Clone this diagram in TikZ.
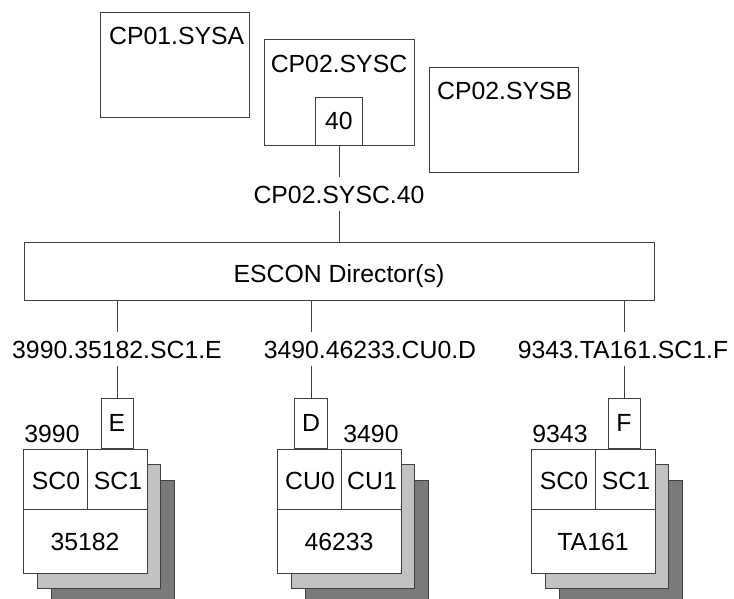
\documentclass[tikz,border=0pt]{standalone}
\usepackage{fontspec}
\setmainfont{Liberation Sans}
\usetikzlibrary{positioning}

\begin{document}
\begin{tikzpicture}[x=1pt,y=-1pt,
    every node/.style={font=\fontsize{24.8}{29}\selectfont},
    box/.style={draw=black!75, line width=1pt, fill=white, inner sep=0pt},
    wire/.style={draw=black!75, line width=1pt},
    path label/.style={inner xsep=0pt, inner ysep=8pt, anchor=base},
    txt/.style={inner sep=0pt, anchor=base}]

    \useasboundingbox (0,0) rectangle (734,598);

    % processors
    \node[box, anchor=north west, minimum width=149pt, minimum height=105pt] (sysa) at (100,12) {};
    \node[txt, anchor=base west] at (109,44) {CP01.SYSA};
    \node[box, anchor=north west, minimum width=150pt, minimum height=106pt] (sysc) at (264,39) {};
    \node[txt] at (339,72) {CP02.SYSC};
    \node[box, minimum width=47pt, minimum height=48pt] (chp) at (339,121) {40};
    \node[box, anchor=north west, minimum width=149pt, minimum height=105pt] (sysb) at (429,67) {};
    \node[txt, anchor=base west] at (437,99) {CP02.SYSB};

    % director
    \node[path label] (chpid) at (339,203) {CP02.SYSC.40};
    \node[box, minimum width=630pt, minimum height=58pt] (esd) at (339,271) {};
    \node[txt] at (339,282) {ESCON Director(s)};
    \draw[wire] (chp) -- (chpid);
    \draw[wire] (chpid) -- (esd);

    % control units
    \foreach \L/\a/\b/\c/\n in {23/SC0/SC1/35182/cuE, 277/CU0/CU1/46233/cuD, 531/SC0/SC1/TA161/cuF}{
        \filldraw[fill=black!52, draw=black!75, line width=1pt] (\L+28,480) rectangle +(123,124);
        \filldraw[fill=black!24, draw=black!75, line width=1pt] (\L+14,464) rectangle +(123,124);
        \node[box, anchor=north west, minimum size=124pt] (\n) at (\L,449) {};
        \draw[wire] (\L,509) -- +(124,0) (\L+64,449) -- (\L+64,509);
        \node[txt] at (\L+33,489) {\a};
        \node[txt] at (\L+95,489) {\b};
        \node[txt] at (\L+62,550) {\c};
    }
    \node[txt] at (52,442) {3990};
    \node[txt] at (371,442) {3490};
    \node[txt] at (560,442) {9343};

    % paths
    \node[path label] (pathE) at (117,358) {3990.35182.SC1.E};
    \node[path label] (pathD) at (370,358) {3490.46233.CU0.D};
    \node[path label] (pathF) at (623,358) {9343.TA161.SC1.F};
    \node[box, minimum width=32pt, minimum height=50pt] (portE) at (117,423) {E};
    \node[box, minimum width=33pt, minimum height=50pt] (portD) at (311,423) {D};
    \node[box, minimum width=32pt, minimum height=50pt] (portF) at (624,423) {F};
    \foreach \p in {E,D,F}{
        \draw[wire] (esd.south -| port\p) -- (path\p.north -| port\p);
        \draw[wire] (path\p.south -| port\p) -- (port\p);
    }
\end{tikzpicture}
\end{document}
